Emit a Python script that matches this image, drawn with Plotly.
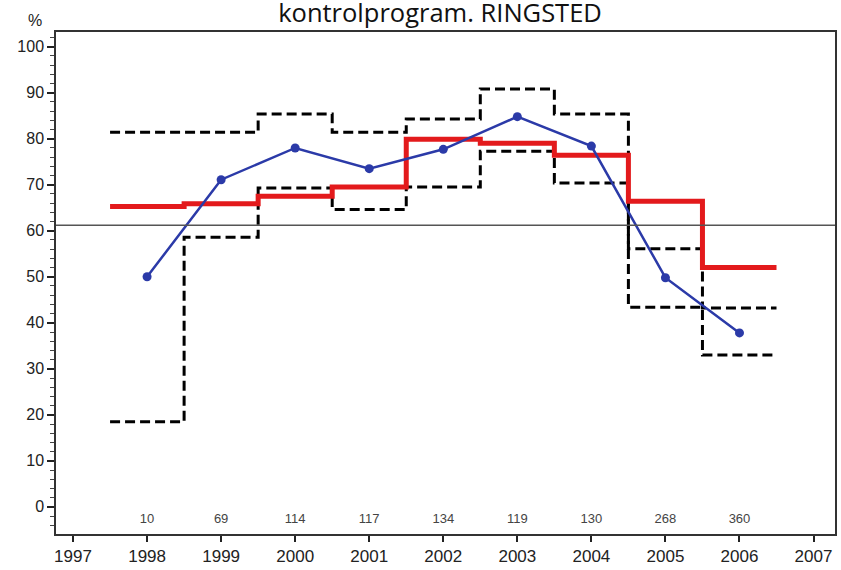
import plotly.graph_objects as go

years = [1998, 1999, 2000, 2001, 2002, 2003, 2004, 2005, 2006]
observed = [50.0, 71.1, 78.0, 73.5, 77.7, 84.8, 78.4, 49.8, 37.8]
expected = [65.3, 65.9, 67.5, 69.5, 79.9, 79.0, 76.4, 66.4, 52.0]
upper = [81.4, 81.4, 85.4, 81.4, 84.3, 90.8, 85.4, 56.1, 43.2]
lower = [18.5, 58.6, 69.3, 64.6, 69.5, 77.3, 70.4, 43.4, 33.0]
counts = [10, 69, 114, 117, 134, 119, 130, 268, 360]
reference = 61.2
count_level = -2.8
x_ticks = list(range(1997, 2008))
y_ticks = list(range(0, 101, 10))
title_text = "kontrolprogram. RINGSTED"

edges = [y - 0.5 for y in years] + [years[-1] + 0.5]


def stepped(vals):
    return vals + [vals[-1]]


fig = go.Figure()

dash_style = dict(color="black", width=3, dash="10px,5px")
fig.add_trace(go.Scatter(x=edges, y=stepped(upper), mode="lines",
                         line=dict(shape="hv", **dash_style), hoverinfo="skip"))
fig.add_trace(go.Scatter(x=edges, y=stepped(lower), mode="lines",
                         line=dict(shape="hv", **dash_style), hoverinfo="skip"))
fig.add_trace(go.Scatter(x=edges, y=stepped(expected), mode="lines",
                         line=dict(shape="hv", color="#e31a1c", width=5)))
fig.add_trace(go.Scatter(x=years, y=observed, mode="lines+markers",
                         line=dict(color="#2b3aa8", width=2.5),
                         marker=dict(color="#2b3aa8", size=9)))
fig.add_trace(go.Scatter(x=years, y=[count_level] * len(years), mode="text",
                         text=[str(c) for c in counts],
                         textfont=dict(family="Liberation Sans", size=13, color="#444"),
                         hoverinfo="skip"))

fig.add_hline(y=reference, line=dict(color="#555", width=1.3))

fig.update_layout(
    width=841, height=570,
    margin=dict(l=56, r=4, t=32, b=36),
    paper_bgcolor="white", plot_bgcolor="white",
    showlegend=False,
    title=dict(text=title_text, x=440 / 841, xanchor="center",
               y=1 - 13 / 570, yanchor="middle",
               font=dict(family="Open Sans", size=25.5, color="#111")),
    font=dict(family="Liberation Sans", color="#222"),
)

fig.update_xaxes(range=[1996.77, 2007.29], tickvals=x_ticks,
                 ticktext=[str(t) for t in x_ticks],
                 ticks="outside", ticklen=6, tickcolor="#222", tickwidth=1.5,
                 showline=True, mirror=True, linecolor="#333", linewidth=1.5,
                 showgrid=False, zeroline=False,
                 tickfont=dict(family="Liberation Sans", size=17, color="#222"))
fig.update_yaxes(range=[-5.9, 103.2], tickvals=y_ticks,
                 ticks="outside", ticklen=7, tickcolor="#222", tickwidth=1.5,
                 minor=dict(dtick=2, ticks="outside", ticklen=4, tickcolor="#444", tickwidth=1),
                 showline=True, mirror=True, linecolor="#333", linewidth=1.5,
                 showgrid=False, zeroline=False,
                 tickfont=dict(family="Liberation Sans", size=16, color="#222"))

fig.add_annotation(text="%", xref="paper", yref="paper",
                   x=(35 - 56) / 781, y=(534 - 20) / 502, xanchor="center", yanchor="middle",
                   showarrow=False,
                   font=dict(family="Liberation Sans", size=16, color="#222"))

fig.write_html("out.html", config={"displayModeBar": False},
               post_script="document.body.style.margin='0';")
